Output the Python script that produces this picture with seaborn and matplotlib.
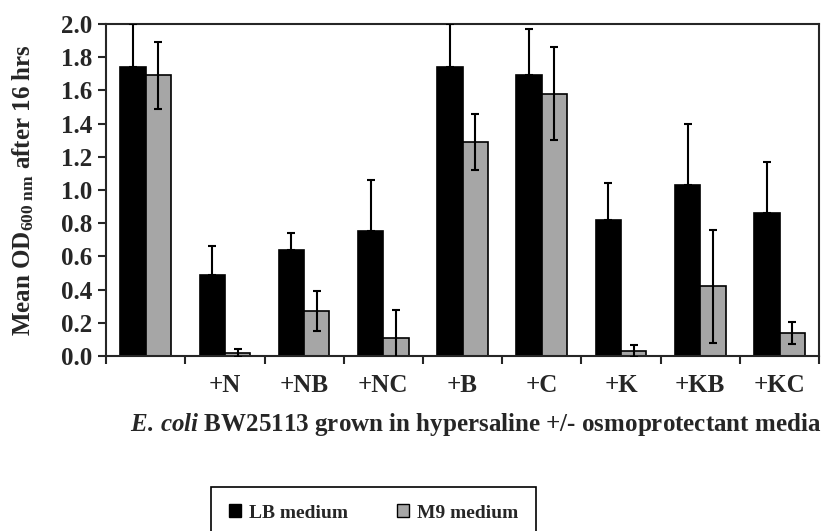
import pandas as pd
import matplotlib
matplotlib.use('Agg')
import matplotlib.pyplot as plt
import seaborn as sns
from matplotlib.patches import Patch

# Data
treatments = ['', '+N', '+NB', '+NC', '+B', '+C', '+K', '+KB', '+KC']
lb_mean = [1.74, 0.49, 0.64, 0.75, 1.74, 1.69, 0.82, 1.03, 0.86]
lb_err = [0.26, 0.17, 0.10, 0.31, 0.26, 0.28, 0.22, 0.37, 0.31]
m9_mean = [1.69, 0.02, 0.27, 0.11, 1.29, 1.58, 0.03, 0.42, 0.14]
m9_err = [0.20, 0.025, 0.12, 0.17, 0.17, 0.28, 0.035, 0.34, 0.065]
media = ['LB medium', 'M9 medium']
colors = ['#000000', '#a6a6a6']

df = pd.DataFrame({
    'treatment': treatments * 2,
    'od': lb_mean + m9_mean,
    'medium': [media[0]] * len(treatments) + [media[1]] * len(treatments),
})

sns.set_style('ticks')
plt.rcParams['font.family'] = ['Liberation Serif', 'DejaVu Serif']
plt.rcParams['font.weight'] = 'bold'
plt.rcParams['mathtext.fontset'] = 'custom'
plt.rcParams['mathtext.rm'] = 'Liberation Serif:bold'
plt.rcParams['mathtext.bf'] = 'Liberation Serif:bold'
plt.rcParams['mathtext.it'] = 'Liberation Serif:italic:bold'

fig = plt.figure(figsize=(8.35, 5.31), dpi=100)
ax = fig.add_axes([0.127, 0.3296, 0.854, 0.6252])

sns.barplot(data=df, x='treatment', y='od', hue='medium', order=treatments,
            hue_order=media, palette=colors, edgecolor='black', linewidth=1.2,
            width=0.64, gap=0, legend=False, ax=ax, zorder=2)

# error bars: LB only upward (hidden under black bars), M9 symmetric
for cont, means, errs, lower in zip(ax.containers, [lb_mean, m9_mean],
                                    [lb_err, m9_err], [False, True]):
    xs = [b.get_x() + b.get_width() / 2 for b in cont]
    lo = errs if lower else [0] * len(errs)
    ax.errorbar(xs, means, yerr=[lo, errs], fmt='none', ecolor='black',
                elinewidth=1.5, capsize=2.8, capthick=1.5, zorder=3)

ax.set_ylim(0, 2.0)
ax.set_xlim(-0.5, len(treatments) - 0.5)
ax.set_yticks([i / 5 for i in range(11)])
ax.set_yticklabels([f'{i / 5:.1f}' for i in range(11)])
ax.set_xticks([i - 0.5 for i in range(len(treatments) + 1)])
ax.set_xticklabels([])
ax.set_xticks(range(len(treatments)), minor=True)
ax.set_xticklabels(treatments, minor=True)
ax.tick_params(axis='x', which='major', length=6, width=1.5, direction='out')
ax.tick_params(axis='x', which='minor', length=0, pad=13, labelsize=18)
ax.tick_params(axis='y', length=6, width=1.5, direction='out', labelsize=18, pad=4)
for s in ax.spines.values():
    s.set_visible(True)
    s.set_linewidth(1.5)

ax.set_xlabel('')
ax.set_ylabel(r'Mean OD$_{\mathbf{600\ nm}}$ after 16 hrs', fontsize=18, fontweight='bold')
ax.yaxis.set_label_coords(-0.098, 0.5)

fig.text(0.570, 1 - 425 / 531,
         r'$\mathit{E.\,coli}$ BW25113 grown in hypersaline +/- osmoprotectant media',
         ha='center', va='center', fontsize=18, fontweight='bold')

handles = [Patch(facecolor=c, edgecolor='black', linewidth=1) for c in colors]
leg = fig.legend(handles, media, loc='upper left', bbox_to_anchor=(211 / 835, 1 - 487 / 531),
                 ncol=2, frameon=True, fancybox=False, edgecolor='black', framealpha=1,
                 fontsize=14, handlelength=0.65, handleheight=0.65, handletextpad=0.4,
                 columnspacing=2.5, borderpad=0.9, borderaxespad=0)
leg.get_frame().set_linewidth(1.2)

plt.savefig('out.png', dpi=100)
